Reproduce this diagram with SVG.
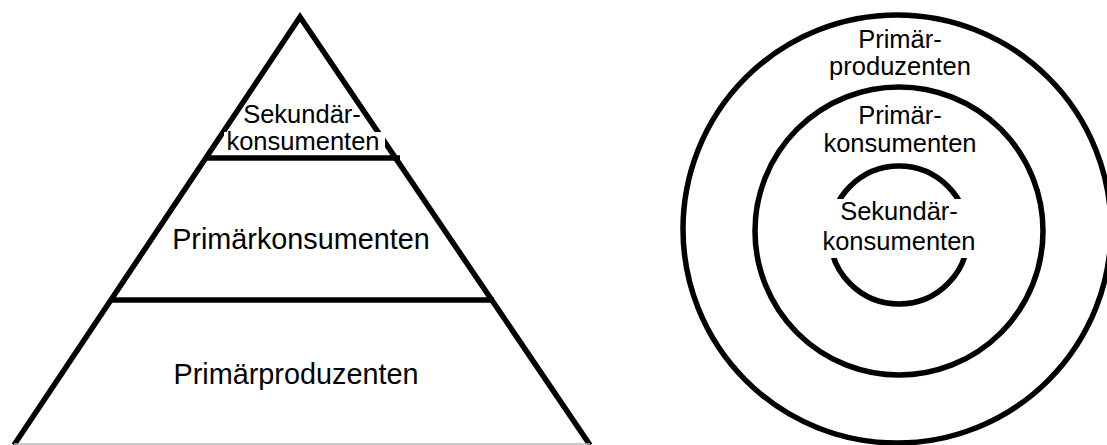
<svg xmlns="http://www.w3.org/2000/svg" width="1107" height="445" viewBox="0 0 1107 445">
<style>
.ln{fill:none;stroke:#000;stroke-width:5.5}
.t{font-family:"Liberation Sans",Arial,sans-serif;fill:#000;text-anchor:middle}
.s{font-size:25.5px}
.b{font-size:28.8px}
.bg{fill:#fff}
</style>
<rect width="1107" height="445" fill="#fff"/>
<g id="pyramid">
<polyline class="ln" points="14,445 300,17 590,445" stroke-linejoin="miter"/>
<line x1="14" y1="444" x2="590" y2="444" stroke="#bbb" stroke-width="1.5"/>
<line class="ln" x1="205" y1="158" x2="400" y2="158"/>
<line class="ln" x1="110" y1="300" x2="494" y2="300"/>
</g>
<g id="level-sekundaer">
<rect class="bg" x="224" y="132" width="161" height="23"/>
<text class="t s" x="302" y="123">Sekundär-</text>
<text class="t s" x="303" y="150">konsumenten</text>
</g>
<g id="level-primaerkonsumenten">
<text class="t b" x="301" y="249">Primärkonsumenten</text>
</g>
<g id="level-primaerproduzenten">
<text class="t b" x="296" y="384">Primärproduzenten</text>
</g>
<g id="ring-outer">
<circle class="ln" cx="897" cy="229" r="214"/>
<text class="t s" x="900" y="48">Primär-</text>
<text class="t s" x="900" y="75">produzenten</text>
</g>
<g id="ring-middle">
<circle class="ln" cx="899" cy="231" r="144"/>
<text class="t s" x="900" y="124">Primär-</text>
<text class="t s" x="900" y="152">konsumenten</text>
</g>
<g id="ring-inner">
<circle class="ln" cx="899" cy="235" r="69"/>
<rect class="bg" x="815" y="199" width="168" height="59"/>
<text class="t s" x="899" y="220">Sekundär-</text>
<text class="t s" x="899" y="250">konsumenten</text>
</g>
</svg>
